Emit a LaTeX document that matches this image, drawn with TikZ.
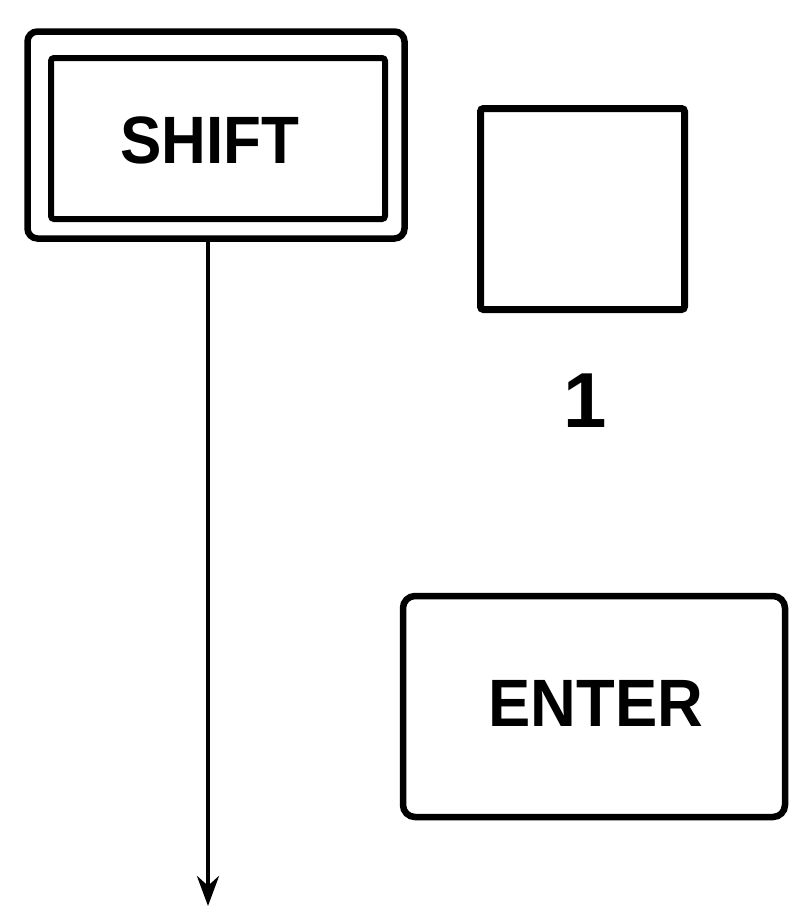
\documentclass[tikz,border=0pt]{standalone}
\usepackage{fontspec}
\setmainfont{Liberation Sans}
\usetikzlibrary{arrows.meta}
\tikzset{
  keybox/.style={draw, line width=6.5pt, inner sep=0pt, rounded corners=10pt},
  innerbox/.style={draw, line width=6pt, inner sep=0pt, rounded corners=3pt},
  keylabel/.style={inner sep=0pt, font=\bfseries\fontsize{67}{67}\selectfont, transform shape},
  wire/.style={line width=4pt, -{Stealth[length=30pt,width=22pt]}}
}
\begin{document}
\begin{tikzpicture}[x=1pt,y=-1pt]
\useasboundingbox (0,0) rectangle (789,906);
% SHIFT key
\node[keybox, minimum width=377pt, minimum height=207pt] (shiftout) at (216,135) {};
\node[innerbox, minimum width=334pt, minimum height=161pt] (shiftin) at (218,138.5) {};
\node[keylabel, xscale=0.925] (shifttxt) at (210,140) {SHIFT};
% blank key
\node[innerbox, line width=7pt, minimum width=204pt, minimum height=201pt] (blank) at (582.5,209) {};
\node[inner sep=0pt, font=\bfseries\fontsize{78}{78}\selectfont] (one) at (585,401) {1};
% ENTER key
\node[keybox, rounded corners=12pt, minimum width=382pt, minimum height=221pt] (enter) at (594,706.5) {};
\node[keylabel, xscale=0.945] (entertxt) at (596,703.5) {ENTER};
% arrow
\coordinate (tip) at (208,906);
\draw[wire] (shiftout.south -| tip) -- (tip);
\end{tikzpicture}
\end{document}
